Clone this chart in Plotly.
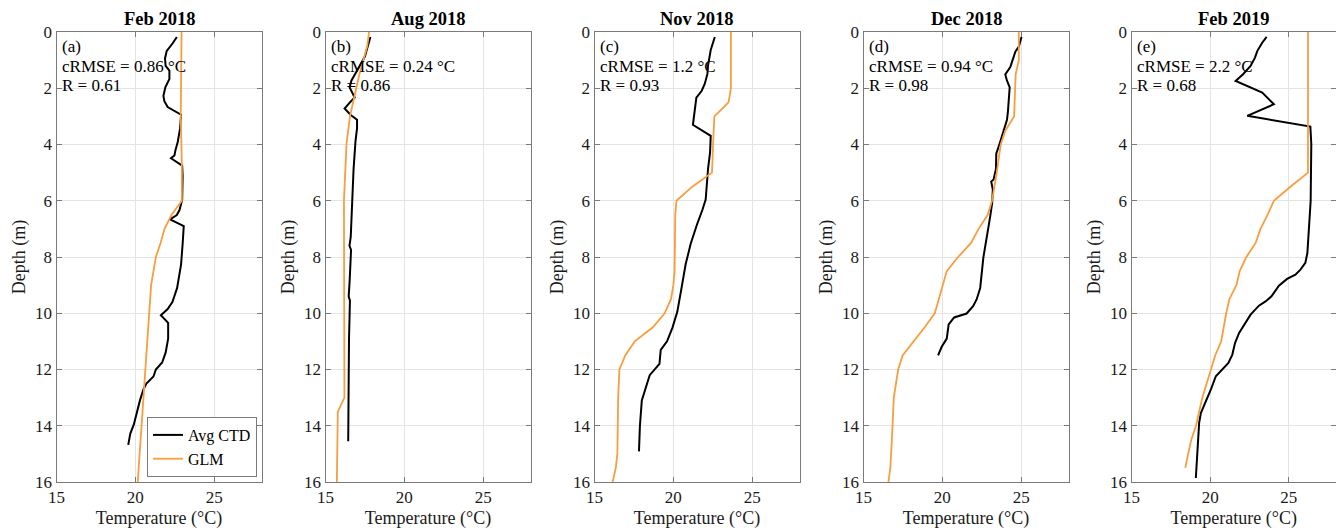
import plotly.graph_objects as go

FONT = "Liberation Serif"
W, H = 1336, 532
M_TOP, M_BOT = 32, 50
PLOT_H = H - M_TOP - M_BOT

# ---- profile data (temperature in °C, depth in m) ----
titles = ["Feb 2018", "Aug 2018", "Nov 2018", "Dec 2018", "Feb 2019"]
letters = ["(a)", "(b)", "(c)", "(d)", "(e)"]
crmse = ["0.86", "0.24", "1.2", "0.94", "2.2"]
r_vals = ["0.61", "0.86", "0.93", "0.98", "0.68"]

ctd_depth_1 = [0.18, 0.40, 0.67, 0.94, 1.20, 1.37, 1.67, 1.97, 2.27, 2.46, 2.67, 2.94, 3.42, 3.90, 4.21,
               4.39, 4.49, 4.75, 5.12, 5.60, 5.96, 6.33, 6.51, 6.66, 6.90, 7.53, 8.26, 9.10, 9.60, 9.85,
               10.07, 10.34, 10.90, 11.40, 11.75, 12.00, 12.25, 12.50, 12.70, 13.08, 13.56, 13.96, 14.28,
               14.50, 14.68]
ctd_temp_1 = [22.63, 22.37, 21.99, 21.88, 21.92, 22.16, 22.16, 21.90, 21.78, 21.84, 22.05, 22.90, 22.84,
              22.69, 22.54, 22.48, 22.26, 22.97, 23.00, 23.00, 22.97, 22.80, 22.63, 22.20, 23.07, 23.00,
              22.90, 22.65, 22.35, 22.05, 21.62, 22.08, 22.08, 21.92, 21.70, 21.30, 21.15, 20.70, 20.52,
              20.30, 20.09, 19.90, 19.68, 19.60, 19.55]
glm_depth_1 = [0, 3, 4.75, 6, 6.5, 7, 7.5, 8, 9, 10, 11, 12, 13, 14, 15, 16]
glm_temp_1 = [22.93, 22.88, 22.95, 22.95, 22.3, 21.85, 21.6, 21.3, 21.0, 20.88, 20.75, 20.6, 20.48,
              20.37, 20.28, 20.15]

ctd_depth_2 = [0.18, 0.34, 0.64, 0.88, 1.25, 1.55, 1.73, 1.97, 2.15, 2.33, 2.50, 2.72, 2.95, 3.12, 3.42,
               3.90, 4.87, 6.08, 7.29, 7.60, 7.75, 8.86, 9.40, 9.55, 10.92, 14.55]
ctd_temp_2 = [17.85, 17.76, 17.63, 17.49, 17.12, 16.85, 16.64, 16.53, 16.70, 16.85, 16.55, 16.21, 16.60,
              17.00, 17.00, 16.90, 16.78, 16.70, 16.60, 16.52, 16.62, 16.53, 16.47, 16.55, 16.49, 16.44]
glm_depth_2 = [0, 0.5, 1, 1.5, 2, 2.5, 3, 4, 5, 6, 13, 13.5, 16]
glm_temp_2 = [17.76, 17.65, 17.4, 17.15, 16.95, 16.75, 16.55, 16.33, 16.23, 16.17, 16.2, 15.78, 15.72]

ctd_depth_3 = [0.18, 0.64, 1.19, 1.49, 1.85, 2.09, 2.33, 2.82, 3.30, 3.69, 4.27, 4.87, 5.60, 5.96, 6.33,
               6.81, 7.53, 8.26, 9.10, 9.95, 10.50, 11.00, 11.30, 11.80, 12.20, 13.10, 14.00, 14.91]
ctd_temp_3 = [22.63, 22.37, 22.20, 22.16, 21.99, 21.80, 21.46, 21.37, 21.24, 22.37, 22.33, 22.20, 22.12,
              22.05, 21.84, 21.52, 21.10, 20.78, 20.52, 20.25, 19.95, 19.60, 19.20, 19.12, 18.50, 18.00,
              17.88, 17.82]
glm_depth_3 = [0, 2, 2.5, 3, 4, 5, 5.5, 6, 6.5, 8.5, 9, 9.5, 10, 10.5, 11, 11.5, 12, 13, 15, 15.5, 16]
glm_temp_3 = [23.65, 23.65, 23.5, 22.6, 22.52, 22.45, 21.2, 20.2, 20.12, 20.08, 20.0, 19.85, 19.45, 18.7,
              17.55, 16.95, 16.58, 16.5, 16.45, 16.35, 16.15]

ctd_depth_4 = [0.18, 0.52, 0.70, 1.00, 1.25, 1.51, 1.73, 1.97, 2.46, 2.82, 3.12, 3.54, 3.90, 4.33, 4.87,
               5.24, 5.32, 5.60, 6.08, 6.57, 7.29, 8.02, 9.10, 9.50, 9.75, 10.01, 10.15, 10.40, 10.90,
               11.20, 11.50]
ctd_temp_4 = [25.02, 24.85, 24.63, 24.48, 24.31, 23.99, 24.10, 24.27, 24.23, 24.16, 24.10, 23.89, 23.67,
              23.42, 23.40, 23.25, 23.10, 23.20, 23.16, 23.03, 22.82, 22.60, 22.40, 22.18, 21.95, 21.54,
              20.75, 20.40, 20.28, 19.95, 19.73]
glm_depth_4 = [0, 1.0, 1.5, 3.0, 3.5, 4.0, 5.0, 6.0, 6.5, 7.0, 7.5, 8.0, 8.5, 9.0, 9.5, 10.0, 10.5, 11.0,
               11.5, 12.0, 13.0, 14.5, 15.5, 16.0]
glm_temp_4 = [24.85, 24.85, 24.65, 24.55, 24.0, 23.7, 23.45, 23.15, 22.88, 22.3, 21.82, 21.0, 20.28,
              20.02, 19.75, 19.52, 18.88, 18.15, 17.48, 17.2, 16.92, 16.8, 16.7, 16.58]

ctd_depth_5 = [0.17, 0.38, 0.67, 0.91, 1.21, 1.50, 1.74, 2.15, 2.57, 2.98, 3.36, 3.99, 6.00, 6.67, 7.27,
               7.86, 8.21, 8.45, 8.63, 8.78, 9.02, 9.40, 9.58, 9.73, 10.05, 10.40, 10.70, 11.06, 11.47,
               11.77, 12.00, 12.24, 12.72, 13.19, 13.55, 13.90, 14.73, 15.86]
ctd_temp_5 = [23.59, 23.31, 23.00, 22.85, 22.57, 22.09, 21.62, 23.31, 24.05, 22.36, 26.37, 26.43, 26.39,
              26.33, 26.27, 26.18, 26.05, 25.74, 25.42, 24.89, 24.37, 23.90, 23.52, 23.10, 22.57, 22.15,
              21.84, 21.58, 21.41, 21.16, 20.78, 20.36, 20.04, 19.68, 19.41, 19.30, 19.22, 19.09]
glm_depth_5 = [0, 5.0, 5.5, 6.0, 6.5, 7.0, 7.5, 8.0, 8.5, 9.0, 9.5, 10.0, 11.0, 11.5, 12.0, 13.0, 14.0,
               14.5, 15.0, 15.5]
glm_temp_5 = [26.22, 26.22, 25.1, 24.05, 23.65, 23.2, 22.89, 22.3, 21.88, 21.67, 21.22, 21.02, 20.7,
              20.32, 20.05, 19.5, 19.1, 18.8, 18.6, 18.42]

ctd_depths = [ctd_depth_1, ctd_depth_2, ctd_depth_3, ctd_depth_4, ctd_depth_5]
ctd_temps = [ctd_temp_1, ctd_temp_2, ctd_temp_3, ctd_temp_4, ctd_temp_5]
glm_depths = [glm_depth_1, glm_depth_2, glm_depth_3, glm_depth_4, glm_depth_5]
glm_temps = [glm_temp_1, glm_temp_2, glm_temp_3, glm_temp_4, glm_temp_5]

x_ticks = [15, 20, 25]

# ---- styling ----
AXIS_COLOR = "#7a7a7a"
GRID_COLOR = "#e4e4e4"
TEXT_COLOR = "#1a1a1a"
CTD_COLOR = "#000000"
GLM_COLOR = "#F99D3E"

panel_left_px = [56.5, 325.5, 594.5, 863.5, 1131.5]
panel_w_px = 205

fig = go.Figure()
layout = dict()
annotations = []

for i in range(5):
    sfx = "" if i == 0 else str(i + 1)
    xa, ya = "x" + sfx, "y" + sfx
    fig.add_trace(go.Scatter(
        x=ctd_temps[i], y=ctd_depths[i], xaxis=xa, yaxis=ya, mode="lines",
        line=dict(color=CTD_COLOR, width=2), name="Avg CTD", showlegend=(i == 0)))
    fig.add_trace(go.Scatter(
        x=glm_temps[i], y=glm_depths[i], xaxis=xa, yaxis=ya, mode="lines",
        line=dict(color=GLM_COLOR, width=1.8), name="GLM", showlegend=(i == 0)))

    x0 = panel_left_px[i] / W
    x1 = min((panel_left_px[i] + panel_w_px) / W, 1.0)
    common = dict(
        showline=True, linecolor=AXIS_COLOR, linewidth=1, mirror="ticks",
        ticks="inside", ticklen=5, tickcolor=AXIS_COLOR, tickwidth=1,
        showgrid=True, gridcolor=GRID_COLOR, gridwidth=1, zeroline=False,
        tickfont=dict(family=FONT, size=17, color=TEXT_COLOR),
        automargin=False,
    )
    layout["xaxis" + sfx] = dict(
        common, domain=[x0, x1], anchor=ya, range=[15, 28], tickvals=x_ticks,
        title=dict(text="Temperature (°C)", font=dict(family=FONT, size=18, color=TEXT_COLOR),
                   standoff=4),
    )
    layout["yaxis" + sfx] = dict(
        common, domain=[0, 1], anchor=xa, range=[16, 0], tick0=0, dtick=2,
        title=dict(text="Depth (m)", font=dict(family=FONT, size=18, color=TEXT_COLOR),
                   standoff=4),
    )

    annotations.append(dict(
        xref=xa + " domain", yref=ya + " domain", x=0.5, y=1, yshift=13,
        xanchor="center", yanchor="middle", showarrow=False,
        text="<b>" + titles[i] + "</b>",
        font=dict(family=FONT, size=18.5, color="#000000")))
    for text, depth in [(letters[i], 0.53),
                        ("cRMSE = " + crmse[i] + " °C", 1.24),
                        ("R = " + r_vals[i], 1.91)]:
        annotations.append(dict(
            xref=xa, yref=ya, x=15.22, y=depth, xanchor="left", yanchor="middle",
            showarrow=False, text=text,
            font=dict(family=FONT, size=17, color="#000000")))

fig.update_layout(
    **layout,
    annotations=annotations,
    width=W, height=H,
    margin=dict(l=0, r=0, t=M_TOP, b=M_BOT),
    paper_bgcolor="white", plot_bgcolor="white",
    font=dict(family=FONT, color=TEXT_COLOR),
    legend=dict(
        x=257 / W, xanchor="right",
        y=(H - M_BOT - 477) / PLOT_H, yanchor="bottom",
        bgcolor="white", bordercolor=AXIS_COLOR, borderwidth=1,
        font=dict(family=FONT, size=16, color="#000000"),
        tracegroupgap=0, itemwidth=30,
    ),
)

fig.write_html("out.html")
